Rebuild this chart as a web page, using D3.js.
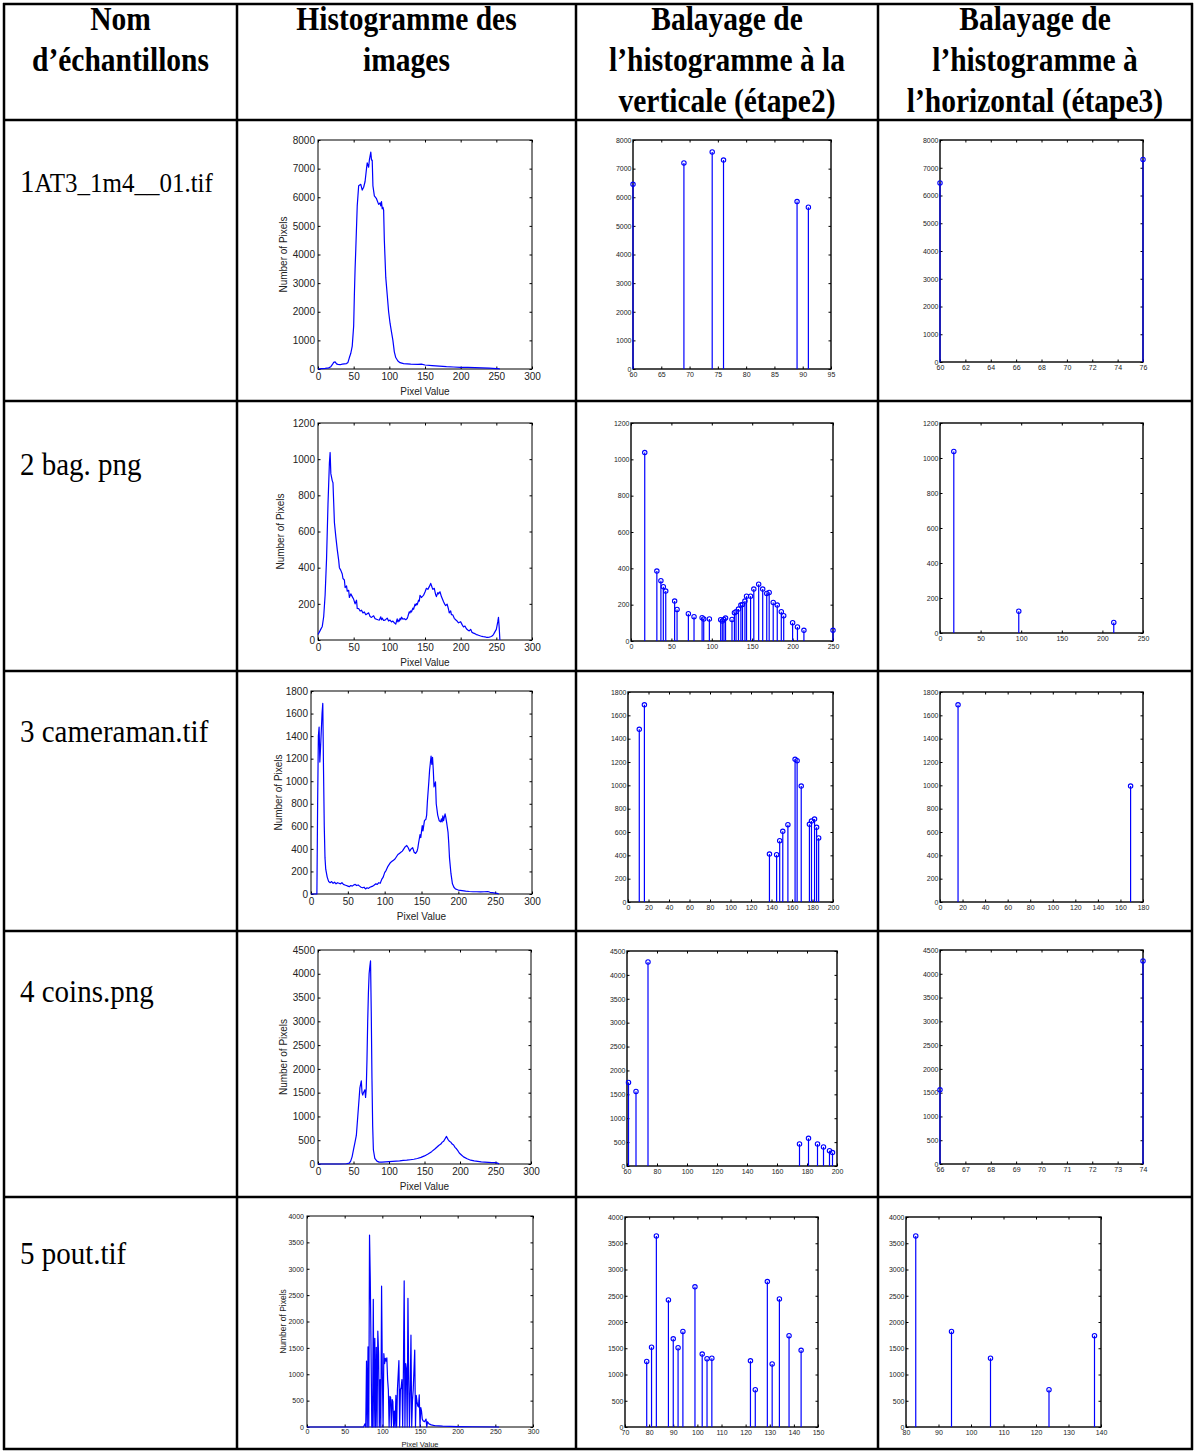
<!DOCTYPE html>
<html><head><meta charset="utf-8">
<script src="https://cdn.jsdelivr.net/npm/d3@7"></script>
<style>body{margin:0;background:#fff}svg{display:block}</style>
</head><body><script>
// ---------------- DATA ----------------
const headerLines = [
  ["Nom", "d’échantillons"],
  ["Histogramme des", "images"],
  ["Balayage de", "l’histogramme à la", "verticale (étape2)"],
  ["Balayage de", "l’histogramme à", "l’horizontal (étape3)"]
];
const sampleNames = [["1", "AT3_1m4__01.tif"], ["2 bag. png"], ["3 cameraman.tif"], ["4 coins.png"], ["5 pout.tif"]];

const hist1 = [[0,0],[5,10],[10,20],[15,40],[18,80],[20,150],[22,230],[24,250],[26,180],[28,160],[31,150],[34,170],[37,180],[40,190],[42,230],[44,400],[46,550],[48,800],[50,1500],[51,2600],[52,3500],[53,4200],[55,5700],[57,6400],[60,6450],[62,6250],[64,6350],[66,6550],[68,7000],[69,7200],[71,7050],[72,7300],[74,7580],[75,7300],[76,7300],[77,6400],[79,6050],[82,5950],[85,5750],[87,5800],[88,5700],[89,5850],[90,5600],[91,5650],[92,5550],[93,4500],[95,3200],[97,2600],[99,2000],[101,1600],[103,1300],[105,1000],[107,600],[109,400],[112,280],[115,220],[120,190],[130,170],[140,160],[145,170],[150,140],[160,120],[170,100],[180,80],[190,70],[200,60],[210,55],[220,50],[230,40],[240,30],[250,15],[253,10],[255,0]];
const hist2 = [[0,30],[2,45],[4,60],[6,75],[8,130],[10,250],[12,450],[14,750],[16,980],[17,1037],[18,920],[20,880],[21,870],[22,760],[23,650],[25,570],[27,500],[29,440],[30,400],[32,385],[34,365],[35,340],[37,332],[38,290],[40,299],[41,270],[43,275],[44,235],[46,255],[48,240],[50,225],[52,200],[54,220],[55,175],[57,174],[59,160],[61,165],[63,150],[65,155],[67,140],[69,145],[71,150],[73,130],[75,125],[78,134],[80,118],[82,115],[84,112],[86,110],[88,128],[89,112],[90,121],[92,108],[94,110],[97,121],[99,105],[101,110],[103,100],[105,105],[107,95],[109,88],[111,117],[112,100],[113,110],[114,105],[115,119],[116,112],[117,126],[119,115],[121,118],[123,112],[125,119],[126,130],[128,156],[129,150],[130,161],[131,155],[133,176],[134,170],[136,198],[137,190],[138,201],[139,195],[141,220],[142,215],[143,247],[145,235],[146,240],[148,247],[150,265],[152,286],[154,280],[156,295],[158,313],[160,290],[161,280],[163,286],[165,250],[166,240],[168,262],[169,255],[171,267],[173,240],[176,212],[178,195],[179,190],[181,198],[183,170],[184,150],[186,161],[187,140],[189,139],[191,120],[193,112],[195,105],[197,95],[200,101],[202,85],[204,72],[206,77],[208,62],[210,55],[212,50],[214,59],[216,42],[218,38],[220,35],[222,30],[224,28],[226,25],[228,22],[230,20],[232,18],[234,17],[236,15],[238,15],[240,16],[242,18],[244,22],[246,30],[248,45],[250,59],[251,80],[252,100],[253,125],[254,70],[255,0]];
const hist3 = [[0,0],[8,0],[9,800],[10,1400],[11,1480],[12,1170],[13,1300],[15,1600],[16,1690],[17,1100],[18,600],[19,320],[20,220],[22,150],[24,110],[26,100],[28,110],[30,95],[32,105],[34,90],[36,100],[38,95],[40,90],[42,100],[44,85],[46,80],[48,75],[50,70],[52,65],[54,75],[56,70],[58,80],[60,85],[62,75],[64,80],[66,70],[68,60],[70,55],[72,60],[74,45],[76,55],[78,50],[80,60],[82,65],[84,70],[86,80],[88,90],[90,85],[92,100],[94,95],[96,130],[98,150],[100,190],[102,210],[104,240],[106,260],[108,280],[110,290],[112,300],[114,310],[116,330],[118,350],[120,360],[122,370],[124,380],[126,400],[128,420],[130,430],[132,410],[134,380],[136,400],[138,411],[140,370],[142,360],[144,380],[145,406],[146,450],[148,526],[149,500],[151,606],[152,560],[154,650],[156,663],[157,700],[158,820],[160,1000],[161,1100],[163,1223],[164,1150],[165,1211],[166,1100],[167,950],[169,994],[170,800],[172,700],[174,650],[176,640],[177,666],[178,640],[179,694],[180,650],[182,711],[183,680],[184,640],[186,549],[187,450],[188,320],[190,180],[192,90],[194,60],[196,45],[198,40],[200,35],[205,30],[210,25],[215,22],[220,20],[225,20],[230,18],[235,20],[240,22],[243,15],[246,12],[250,8],[253,5],[255,0]];
const hist4 = [[0,0],[30,0],[40,5],[44,20],[46,60],[48,150],[50,300],[52,450],[54,600],[56,1000],[58,1400],[59,1600],[61,1750],[62,1500],[63,1450],[64,1500],[66,1560],[67,1400],[68,1600],[69,2200],[70,3000],[71,3600],[72,4000],[73,4150],[74,4270],[75,3200],[76,1800],[77,800],[78,300],[80,120],[83,60],[86,40],[90,40],[95,45],[100,50],[105,55],[110,60],[115,65],[120,75],[125,80],[130,90],[135,100],[140,115],[145,140],[150,170],[155,210],[160,260],[165,320],[170,390],[173,420],[175,460],[177,480],[179,530],[181,580],[183,520],[185,480],[187,460],[189,420],[191,400],[193,350],[195,320],[197,280],[199,230],[202,190],[205,150],[210,110],[215,80],[220,65],[225,55],[230,45],[235,40],[240,35],[245,30],[250,30],[253,20],[255,0]];
const hist5 = [[0,0],[75,0],[77,60],[78,0],[79,1250],[80,0],[81,1520],[82,0],[83,3640],[84,2800],[85,1500],[86,0],[87,0],[88,2420],[89,0],[90,1680],[91,0],[92,1510],[93,0],[94,1820],[95,1400],[96,0],[97,900],[98,0],[99,2670],[100,1000],[101,0],[102,1390],[103,1200],[104,1300],[105,1250],[106,1310],[107,900],[108,700],[109,0],[110,580],[111,560],[112,0],[113,520],[114,480],[115,0],[116,300],[117,0],[118,600],[119,0],[120,700],[122,1260],[123,0],[124,710],[125,750],[126,900],[127,0],[128,1100],[129,2770],[130,0],[131,1200],[132,1100],[133,0],[134,2440],[135,900],[136,0],[137,700],[138,1740],[139,0],[140,500],[141,700],[143,1460],[144,0],[145,600],[146,480],[147,400],[148,380],[149,610],[150,0],[151,370],[152,300],[153,150],[154,120],[156,100],[158,150],[159,0],[160,100],[162,60],[165,40],[168,30],[170,25],[175,20],[180,15],[190,10],[200,8],[220,5],[255,0]];

// vertical scan (step 2) stems
const vert1 = [[60,6450],[69,7200],[74,7580],[76,7300],[89,5850],[91,5650]];
const vert2 = [[17,1037],[32,385],[37,332],[40,299],[43,275],[54,220],[57,174],[71,150],[78,134],[88,128],[90,121],[97,121],[111,117],[113,110],[115,119],[117,126],[125,119],[128,156],[130,161],[133,176],[136,198],[138,201],[141,220],[143,247],[148,247],[152,286],[158,313],[163,286],[168,262],[171,267],[176,212],[181,198],[186,161],[189,139],[200,101],[206,77],[214,59],[250,59]];
const vert3 = [[11,1480],[16,1690],[138,411],[145,406],[148,526],[151,606],[156,663],[163,1223],[165,1211],[169,994],[177,666],[179,694],[182,711],[184,640],[186,549]];
const vert4 = [[61,1750],[66,1560],[74,4270],[175,460],[181,580],[187,460],[191,400],[195,320],[197,280]];
const vert5 = [[79,1250],[81,1520],[83,3640],[88,2420],[90,1680],[92,1510],[94,1820],[99,2670],[102,1390],[104,1300],[106,1310],[122,1260],[124,710],[129,2770],[131,1200],[134,2440],[138,1740],[143,1460]];

// horizontal scan (step 3) stems
const horiz1 = [[60,6450],[76,7300]];
const horiz2 = [[17,1037],[97,125],[214,60]];
const horiz3 = [[16,1690],[169,994]];
const horiz4 = [[66,1560],[74,4270]];
const horiz5 = [[83,3640],[94,1820],[106,1310],[124,710],[138,1740]];

// tick values
const histXTicks = [0,50,100,150,200,250,300];
const yTicks1 = [0,1000,2000,3000,4000,5000,6000,7000,8000];
const yTicks2 = [0,200,400,600,800,1000,1200];
const yTicks3 = [0,200,400,600,800,1000,1200,1400,1600,1800];
const yTicks4 = [0,500,1000,1500,2000,2500,3000,3500,4000,4500];
const yTicks5 = [0,500,1000,1500,2000,2500,3000,3500,4000];
const vertXTicks1 = [60,65,70,75,80,85,90,95];
const vertXTicks2 = [0,50,100,150,200,250];
const vertXTicks3 = [0,20,40,60,80,100,120,140,160,180,200];
const vertXTicks4 = [60,80,100,120,140,160,180,200];
const vertXTicks5 = [70,80,90,100,110,120,130,140,150];
const horizXTicks1 = [60,62,64,66,68,70,72,74,76];
const horizXTicks2 = [0,50,100,150,200,250];
const horizXTicks3 = [0,20,40,60,80,100,120,140,160,180];
const horizXTicks4 = [66,67,68,69,70,71,72,73,74];
const horizXTicks5 = [80,90,100,110,120,130,140];

// ---------------- LAYOUT ----------------
const W = 1197, H = 1452;
const colX = [4, 237, 576, 878, 1192];
const rowY = [4, 120, 401, 671, 931, 1197, 1449];
const nameBaselines = [192, 475, 742, 1002, 1264];

const histBoxes = [
  {x0:318,x1:532,y0:140,y1:369},{x0:318,x1:532,y0:423,y1:640},{x0:311,x1:532,y0:691,y1:894},
  {x0:318,x1:531,y0:950,y1:1164},{x0:307,x1:533,y0:1216,y1:1427}];
const vertBoxes = [
  {x0:633,x1:831,y0:140,y1:369},{x0:631,x1:833,y0:423,y1:641},{x0:628,x1:833,y0:692,y1:902},
  {x0:627,x1:837,y0:951,y1:1166},{x0:625,x1:818,y0:1217,y1:1427}];
const horizBoxes = [
  {x0:940,x1:1143,y0:140,y1:362},{x0:940,x1:1143,y0:423,y1:633},{x0:940,x1:1143,y0:692,y1:902},
  {x0:940,x1:1143,y0:950,y1:1164},{x0:906,x1:1101,y0:1217,y1:1427}];
const histYLabelX = [283, 280, 278, 283, 283];

const hists = [hist1, hist2, hist3, hist4, hist5];
const verts = [vert1, vert2, vert3, vert4, vert5];
const horizs = [horiz1, horiz2, horiz3, horiz4, horiz5];
const yTicksAll = [yTicks1, yTicks2, yTicks3, yTicks4, yTicks5];
const yMax = [8000, 1200, 1800, 4500, 4000];
const vertXT = [vertXTicks1, vertXTicks2, vertXTicks3, vertXTicks4, vertXTicks5];
const horizXT = [horizXTicks1, horizXTicks2, horizXTicks3, horizXTicks4, horizXTicks5];

const BLUE = "#0000ff";
const SANS = "'Liberation Sans', Arial, sans-serif";
const NARROW = "'Liberation Sans Narrow', 'Arial Narrow', 'Liberation Sans', sans-serif";
const SERIF = "'Liberation Serif', 'Times New Roman', serif";
const fmt = d3.format("d");

const svg = d3.select("body").append("svg").attr("width", W).attr("height", H);
svg.append("rect").attr("width", W).attr("height", H).attr("fill", "#fff");

// ---------------- TABLE ----------------
const tbl = svg.append("g");
rowY.forEach(y => tbl.append("line").attr("x1", colX[0]-1).attr("x2", colX[4]+1).attr("y1", y).attr("y2", y)
  .attr("stroke", "#000").attr("stroke-width", 2.5));
colX.forEach(x => tbl.append("line").attr("x1", x).attr("x2", x).attr("y1", rowY[0]-1).attr("y2", rowY[rowY.length-1]+1)
  .attr("stroke", "#000").attr("stroke-width", 2.5));

headerLines.forEach((lines, i) => {
  const cx = (colX[i] + colX[i+1]) / 2;
  lines.forEach((t, j) => {
    svg.append("text").attr("transform", `translate(${cx},${30 + j*41}) scale(1,1.12)`).attr("text-anchor", "middle")
      .attr("font-family", SERIF).attr("font-weight", "bold").attr("font-size", 29.5).text(t);
  });
});

sampleNames.forEach((parts, i) => {
  const t = svg.append("text").attr("transform", `translate(20,${nameBaselines[i]}) scale(1,1.1)`)
    .attr("font-family", SERIF).attr("font-size", 29);
  if (parts.length === 2) {
    t.append("tspan").text(parts[0]);
    t.append("tspan").attr("font-size", 25).text(parts[1]);
  } else t.text(parts[0]);
});

// ---------------- AXES HELPER ----------------
function axesFrame(b, x, y, xt, yt, o) {
  const g = svg.append("g");
  const tl = o.tickLen;
  const bottom = g.append("g").attr("transform", `translate(0,${b.y1})`)
    .call(d3.axisBottom(x).tickValues(xt).tickFormat(fmt).tickSizeInner(-tl).tickSizeOuter(0).tickPadding(o.xPad));
  const left = g.append("g").attr("transform", `translate(${b.x0},0)`)
    .call(d3.axisLeft(y).tickValues(yt).tickFormat(fmt).tickSizeInner(-tl).tickSizeOuter(0).tickPadding(o.yPad));
  const top = g.append("g").attr("transform", `translate(0,${b.y0})`)
    .call(d3.axisTop(x).tickValues(xt).tickSizeInner(-tl).tickSizeOuter(0).tickFormat(""));
  const right = g.append("g").attr("transform", `translate(${b.x1},0)`)
    .call(d3.axisRight(y).tickValues(yt).tickSizeInner(-tl).tickSizeOuter(0).tickFormat(""));
  [bottom, left, top, right].forEach(a => {
    a.select(".domain").remove();
    a.attr("font-family", o.font).attr("font-size", o.fs);
    a.selectAll("line").attr("stroke", "#000").attr("stroke-width", 1);
    a.selectAll("text").attr("fill", "#222");
  });
  g.append("rect").attr("x", b.x0).attr("y", b.y0).attr("width", b.x1 - b.x0).attr("height", b.y1 - b.y0)
    .attr("fill", "none").attr("stroke", "#000").attr("stroke-width", o.sw);
  return g;
}

// ---------------- HISTOGRAMS ----------------
hists.forEach((data, i) => {
  const b = histBoxes[i];
  const small = i === 4;
  const x = d3.scaleLinear().domain([0, 300]).range([b.x0, b.x1]);
  const y = d3.scaleLinear().domain([0, yMax[i]]).range([b.y1, b.y0]);
  const fs = small ? 7 : 10;
  axesFrame(b, x, y, histXTicks, yTicksAll[i], {tickLen: 2.5, xPad: small ? 2.5 : 4, yPad: 3, font: SANS, fs, sw: 1});
  svg.append("path").datum(data).attr("fill", "none").attr("stroke", BLUE).attr("stroke-width", 1.2)
    .attr("stroke-linejoin", "round")
    .attr("d", d3.line().x(d => x(d[0])).y(d => y(d[1])));
  svg.append("text").attr("x", (b.x0 + b.x1) / 2).attr("y", b.y1 + (small ? 20 : 26)).attr("text-anchor", "middle")
    .attr("font-family", SANS).attr("font-size", small ? 7.5 : 10).attr("fill", "#222").text("Pixel Value");
  const ly = (b.y0 + b.y1) / 2;
  svg.append("text").attr("transform", `translate(${histYLabelX[i]},${ly}) rotate(-90)`).attr("text-anchor", "middle")
    .attr("dy", "0.35em").attr("font-family", SANS).attr("font-size", small ? 8.5 : 10).attr("fill", "#222")
    .text("Number of Pixels");
});

// ---------------- STEM PLOTS ----------------
function stemPlot(b, data, xt, yt, ymax) {
  const x = d3.scaleLinear().domain([xt[0], xt[xt.length - 1]]).range([b.x0, b.x1]);
  const y = d3.scaleLinear().domain([0, ymax]).range([b.y1, b.y0]);
  axesFrame(b, x, y, xt, yt, {tickLen: 2.5, xPad: 3, yPad: 1.5, font: NARROW, fs: 7, sw: 1.4});
  const g = svg.append("g");
  g.selectAll("line.stem").data(data).join("line").attr("class", "stem")
    .attr("x1", d => x(d[0])).attr("x2", d => x(d[0])).attr("y1", y(0)).attr("y2", d => y(d[1]))
    .attr("stroke", BLUE).attr("stroke-width", 1.2);
  g.selectAll("circle").data(data).join("circle")
    .attr("cx", d => x(d[0])).attr("cy", d => y(d[1])).attr("r", 2.2)
    .attr("fill", "none").attr("stroke", BLUE).attr("stroke-width", 1.1);
}
verts.forEach((d, i) => stemPlot(vertBoxes[i], d, vertXT[i], yTicksAll[i], yMax[i]));
horizs.forEach((d, i) => stemPlot(horizBoxes[i], d, horizXT[i], yTicksAll[i], yMax[i]));
</script></body></html>
